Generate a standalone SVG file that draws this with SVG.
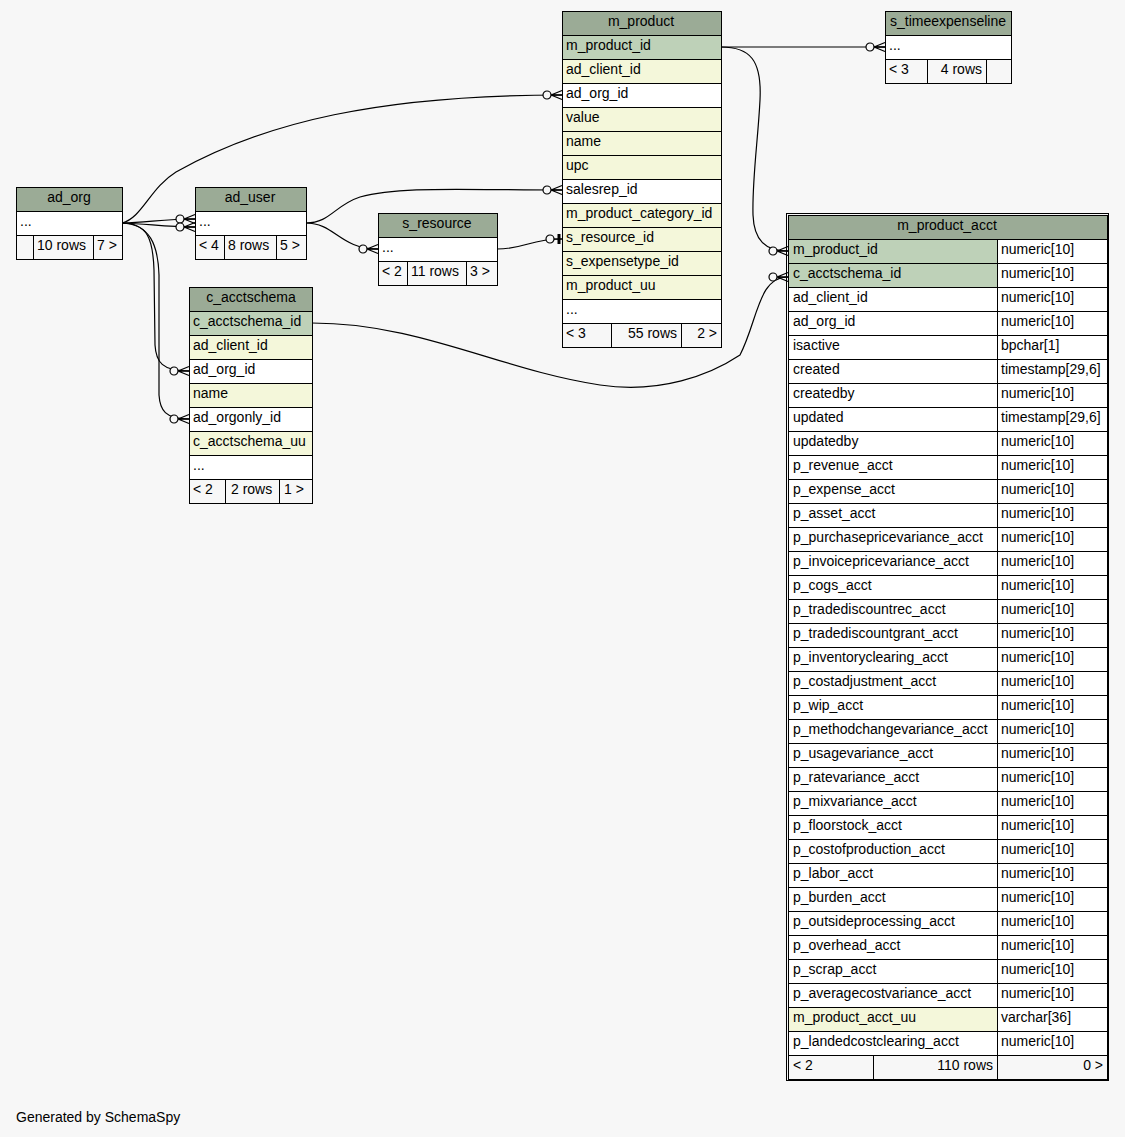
<svg xmlns="http://www.w3.org/2000/svg" width="1125" height="1137" viewBox="0 0 1125 1137">
<style>
text{font-family:"Liberation Sans",Arial,sans-serif;font-size:14px;fill:#000}
.c{text-anchor:middle}
.e{text-anchor:end}
rect{stroke:#000;stroke-width:1}
.bg{fill:#f7f7f7;stroke:none}
.hd{fill:#9bab96}
.pk{fill:#bed1b8}
.ix{fill:#f4f7da}
.pl{fill:#ffffff}
.ft{fill:#f7f7f7}
.edge path{fill:none;stroke:#000;stroke-width:1.2}
</style>
<defs>
<marker id="crow" markerUnits="userSpaceOnUse" viewBox="-22 -8 24 16" refX="0" refY="0" markerWidth="24" markerHeight="16" orient="auto" overflow="visible">
<path d="M-11,0 L0,-4.5 M-11,0 L0,0 M-11,0 L0,4.5" stroke="#000" fill="none" stroke-width="1.3"/>
<circle cx="-15" cy="0" r="4" fill="#f7f7f7" stroke="#000" stroke-width="1.2"/>
</marker>
<marker id="bar" markerUnits="userSpaceOnUse" viewBox="-22 -8 24 16" refX="0" refY="0" markerWidth="24" markerHeight="16" orient="auto" overflow="visible">
<path d="M-9,0 L0,0" stroke="#000" fill="none" stroke-width="1.2"/>
<path d="M-3,-5 L-3,5" stroke="#000" fill="none" stroke-width="3"/>
<circle cx="-12" cy="0" r="4" fill="#f7f7f7" stroke="#000" stroke-width="1.2"/>
</marker>
</defs>
<rect class="bg" x="0" y="0" width="1125" height="1137"/>

<g id="connectors" class="edge">
<path d="M122,223 C142,218 150,188 176,172 C265,122 380,95 562,95" marker-end="url(#crow)"/>
<path d="M122,223 C150,222 165,219 195,219" marker-end="url(#crow)"/>
<path d="M122,223 C150,224 165,227 195,227" marker-end="url(#crow)"/>
<path d="M122,223 C148,223 153,240 154,270 L155,345 C156,362 162,371 189,371" marker-end="url(#crow)"/>
<path d="M122,223 C150,224 158,245 159,275 L159,395 C160,410 165,419 189,419" marker-end="url(#crow)"/>
<path d="M306,223 C335,223 340,249 378,249" marker-end="url(#crow)"/>
<path d="M306,223 C330,223 335,205 360,197 C400,186 460,190 562,190" marker-end="url(#crow)"/>
<path d="M497,249 C525,249 530,239 562,239" marker-end="url(#bar)"/>
<path d="M721,47 L885,47" marker-end="url(#crow)"/>
<path d="M721,47 C750,47 762,60 760,100 C758,140 752,180 753,215 C754,240 765,251 788,251" marker-end="url(#crow)"/>
<path d="M312,323 C420,323 500,370 600,385 C660,394 710,375 740,355 C758,320 758,277 788,277" marker-end="url(#crow)"/>
</g>

<g id="ad_org">
<rect class="hd" x="16.5" y="187.5" width="106" height="24"/>
<text class="c" x="69" y="202">ad_org</text>
<rect class="pl" x="16.5" y="211.5" width="106" height="24"/>
<text x="20" y="226">...</text>
<rect class="ft" x="16.5" y="235.5" width="17" height="24"/>
<rect class="ft" x="33.5" y="235.5" width="60" height="24"/>
<rect class="ft" x="93.5" y="235.5" width="29" height="24"/>
<text x="37" y="250">10 rows</text>
<text x="97" y="250">7 &gt;</text>
</g>

<g id="ad_user">
<rect class="hd" x="195.5" y="187.5" width="111" height="24"/>
<text class="c" x="250" y="202">ad_user</text>
<rect class="pl" x="195.5" y="211.5" width="111" height="24"/>
<text x="199" y="226">...</text>
<rect class="ft" x="195.5" y="235.5" width="29" height="24"/>
<rect class="ft" x="224.5" y="235.5" width="52" height="24"/>
<rect class="ft" x="276.5" y="235.5" width="30" height="24"/>
<text x="199" y="250">&lt; 4</text>
<text x="228" y="250">8 rows</text>
<text x="280" y="250">5 &gt;</text>
</g>

<g id="s_resource">
<rect class="hd" x="378.5" y="213.5" width="119" height="24"/>
<text class="c" x="437" y="228">s_resource</text>
<rect class="pl" x="378.5" y="237.5" width="119" height="24"/>
<text x="382" y="252">...</text>
<rect class="ft" x="378.5" y="261.5" width="29" height="24"/>
<rect class="ft" x="407.5" y="261.5" width="59" height="24"/>
<rect class="ft" x="466.5" y="261.5" width="31" height="24"/>
<text x="382" y="276">&lt; 2</text>
<text x="411" y="276">11 rows</text>
<text x="470" y="276">3 &gt;</text>
</g>

<g id="c_acctschema">
<rect class="hd" x="189.5" y="287.5" width="123" height="24"/>
<text class="c" x="251" y="302">c_acctschema</text>
<rect class="pk" x="189.5" y="311.5" width="123" height="24"/>
<text x="193" y="326">c_acctschema_id</text>
<rect class="ix" x="189.5" y="335.5" width="123" height="24"/>
<text x="193" y="350">ad_client_id</text>
<rect class="pl" x="189.5" y="359.5" width="123" height="24"/>
<text x="193" y="374">ad_org_id</text>
<rect class="ix" x="189.5" y="383.5" width="123" height="24"/>
<text x="193" y="398">name</text>
<rect class="pl" x="189.5" y="407.5" width="123" height="24"/>
<text x="193" y="422">ad_orgonly_id</text>
<rect class="ix" x="189.5" y="431.5" width="123" height="24"/>
<text x="193" y="446">c_acctschema_uu</text>
<rect class="pl" x="189.5" y="455.5" width="123" height="24"/>
<text x="193" y="470">...</text>
<rect class="ft" x="189.5" y="479.5" width="36" height="24"/>
<rect class="ft" x="225.5" y="479.5" width="54" height="24"/>
<rect class="ft" x="279.5" y="479.5" width="33" height="24"/>
<text x="193" y="494">&lt; 2</text>
<text x="231" y="494">2 rows</text>
<text x="284" y="494">1 &gt;</text>
</g>

<g id="m_product">
<rect class="hd" x="562.5" y="11.5" width="159" height="24"/>
<text class="c" x="641" y="26">m_product</text>
<rect class="pk" x="562.5" y="35.5" width="159" height="24"/>
<text x="566" y="50">m_product_id</text>
<rect class="ix" x="562.5" y="59.5" width="159" height="24"/>
<text x="566" y="74">ad_client_id</text>
<rect class="pl" x="562.5" y="83.5" width="159" height="24"/>
<text x="566" y="98">ad_org_id</text>
<rect class="ix" x="562.5" y="107.5" width="159" height="24"/>
<text x="566" y="122">value</text>
<rect class="ix" x="562.5" y="131.5" width="159" height="24"/>
<text x="566" y="146">name</text>
<rect class="ix" x="562.5" y="155.5" width="159" height="24"/>
<text x="566" y="170">upc</text>
<rect class="pl" x="562.5" y="179.5" width="159" height="24"/>
<text x="566" y="194">salesrep_id</text>
<rect class="ix" x="562.5" y="203.5" width="159" height="24"/>
<text x="566" y="218">m_product_category_id</text>
<rect class="ix" x="562.5" y="227.5" width="159" height="24"/>
<text x="566" y="242">s_resource_id</text>
<rect class="ix" x="562.5" y="251.5" width="159" height="24"/>
<text x="566" y="266">s_expensetype_id</text>
<rect class="ix" x="562.5" y="275.5" width="159" height="24"/>
<text x="566" y="290">m_product_uu</text>
<rect class="pl" x="562.5" y="299.5" width="159" height="24"/>
<text x="566" y="314">...</text>
<rect class="ft" x="562.5" y="323.5" width="49" height="24"/>
<rect class="ft" x="611.5" y="323.5" width="70" height="24"/>
<rect class="ft" x="681.5" y="323.5" width="40" height="24"/>
<text x="566" y="338">&lt; 3</text>
<text class="e" x="677" y="338">55 rows</text>
<text class="e" x="717" y="338">2 &gt;</text>
</g>

<g id="s_timeexpenseline">
<rect class="hd" x="885.5" y="11.5" width="126" height="24"/>
<text class="c" x="948" y="26">s_timeexpenseline</text>
<rect class="pl" x="885.5" y="35.5" width="126" height="24"/>
<text x="889" y="50">...</text>
<rect class="ft" x="885.5" y="59.5" width="42" height="24"/>
<rect class="ft" x="927.5" y="59.5" width="59" height="24"/>
<rect class="ft" x="986.5" y="59.5" width="25" height="24"/>
<text x="889" y="74">&lt; 3</text>
<text class="e" x="982" y="74">4 rows</text>
</g>

<g id="m_product_acct">
<rect class="hd" x="788.5" y="215.5" width="319" height="24"/>
<text class="c" x="947" y="230">m_product_acct</text>
<rect class="pk" x="788.5" y="239.5" width="209" height="24"/><rect class="pl" x="997.5" y="239.5" width="110" height="24"/>
<text x="793" y="254">m_product_id</text><text x="1001" y="254">numeric[10]</text>
<rect class="pk" x="788.5" y="263.5" width="209" height="24"/><rect class="pl" x="997.5" y="263.5" width="110" height="24"/>
<text x="793" y="278">c_acctschema_id</text><text x="1001" y="278">numeric[10]</text>
<rect class="pl" x="788.5" y="287.5" width="209" height="24"/><rect class="pl" x="997.5" y="287.5" width="110" height="24"/>
<text x="793" y="302">ad_client_id</text><text x="1001" y="302">numeric[10]</text>
<rect class="pl" x="788.5" y="311.5" width="209" height="24"/><rect class="pl" x="997.5" y="311.5" width="110" height="24"/>
<text x="793" y="326">ad_org_id</text><text x="1001" y="326">numeric[10]</text>
<rect class="pl" x="788.5" y="335.5" width="209" height="24"/><rect class="pl" x="997.5" y="335.5" width="110" height="24"/>
<text x="793" y="350">isactive</text><text x="1001" y="350">bpchar[1]</text>
<rect class="pl" x="788.5" y="359.5" width="209" height="24"/><rect class="pl" x="997.5" y="359.5" width="110" height="24"/>
<text x="793" y="374">created</text><text x="1001" y="374">timestamp[29,6]</text>
<rect class="pl" x="788.5" y="383.5" width="209" height="24"/><rect class="pl" x="997.5" y="383.5" width="110" height="24"/>
<text x="793" y="398">createdby</text><text x="1001" y="398">numeric[10]</text>
<rect class="pl" x="788.5" y="407.5" width="209" height="24"/><rect class="pl" x="997.5" y="407.5" width="110" height="24"/>
<text x="793" y="422">updated</text><text x="1001" y="422">timestamp[29,6]</text>
<rect class="pl" x="788.5" y="431.5" width="209" height="24"/><rect class="pl" x="997.5" y="431.5" width="110" height="24"/>
<text x="793" y="446">updatedby</text><text x="1001" y="446">numeric[10]</text>
<rect class="pl" x="788.5" y="455.5" width="209" height="24"/><rect class="pl" x="997.5" y="455.5" width="110" height="24"/>
<text x="793" y="470">p_revenue_acct</text><text x="1001" y="470">numeric[10]</text>
<rect class="pl" x="788.5" y="479.5" width="209" height="24"/><rect class="pl" x="997.5" y="479.5" width="110" height="24"/>
<text x="793" y="494">p_expense_acct</text><text x="1001" y="494">numeric[10]</text>
<rect class="pl" x="788.5" y="503.5" width="209" height="24"/><rect class="pl" x="997.5" y="503.5" width="110" height="24"/>
<text x="793" y="518">p_asset_acct</text><text x="1001" y="518">numeric[10]</text>
<rect class="pl" x="788.5" y="527.5" width="209" height="24"/><rect class="pl" x="997.5" y="527.5" width="110" height="24"/>
<text x="793" y="542">p_purchasepricevariance_acct</text><text x="1001" y="542">numeric[10]</text>
<rect class="pl" x="788.5" y="551.5" width="209" height="24"/><rect class="pl" x="997.5" y="551.5" width="110" height="24"/>
<text x="793" y="566">p_invoicepricevariance_acct</text><text x="1001" y="566">numeric[10]</text>
<rect class="pl" x="788.5" y="575.5" width="209" height="24"/><rect class="pl" x="997.5" y="575.5" width="110" height="24"/>
<text x="793" y="590">p_cogs_acct</text><text x="1001" y="590">numeric[10]</text>
<rect class="pl" x="788.5" y="599.5" width="209" height="24"/><rect class="pl" x="997.5" y="599.5" width="110" height="24"/>
<text x="793" y="614">p_tradediscountrec_acct</text><text x="1001" y="614">numeric[10]</text>
<rect class="pl" x="788.5" y="623.5" width="209" height="24"/><rect class="pl" x="997.5" y="623.5" width="110" height="24"/>
<text x="793" y="638">p_tradediscountgrant_acct</text><text x="1001" y="638">numeric[10]</text>
<rect class="pl" x="788.5" y="647.5" width="209" height="24"/><rect class="pl" x="997.5" y="647.5" width="110" height="24"/>
<text x="793" y="662">p_inventoryclearing_acct</text><text x="1001" y="662">numeric[10]</text>
<rect class="pl" x="788.5" y="671.5" width="209" height="24"/><rect class="pl" x="997.5" y="671.5" width="110" height="24"/>
<text x="793" y="686">p_costadjustment_acct</text><text x="1001" y="686">numeric[10]</text>
<rect class="pl" x="788.5" y="695.5" width="209" height="24"/><rect class="pl" x="997.5" y="695.5" width="110" height="24"/>
<text x="793" y="710">p_wip_acct</text><text x="1001" y="710">numeric[10]</text>
<rect class="pl" x="788.5" y="719.5" width="209" height="24"/><rect class="pl" x="997.5" y="719.5" width="110" height="24"/>
<text x="793" y="734">p_methodchangevariance_acct</text><text x="1001" y="734">numeric[10]</text>
<rect class="pl" x="788.5" y="743.5" width="209" height="24"/><rect class="pl" x="997.5" y="743.5" width="110" height="24"/>
<text x="793" y="758">p_usagevariance_acct</text><text x="1001" y="758">numeric[10]</text>
<rect class="pl" x="788.5" y="767.5" width="209" height="24"/><rect class="pl" x="997.5" y="767.5" width="110" height="24"/>
<text x="793" y="782">p_ratevariance_acct</text><text x="1001" y="782">numeric[10]</text>
<rect class="pl" x="788.5" y="791.5" width="209" height="24"/><rect class="pl" x="997.5" y="791.5" width="110" height="24"/>
<text x="793" y="806">p_mixvariance_acct</text><text x="1001" y="806">numeric[10]</text>
<rect class="pl" x="788.5" y="815.5" width="209" height="24"/><rect class="pl" x="997.5" y="815.5" width="110" height="24"/>
<text x="793" y="830">p_floorstock_acct</text><text x="1001" y="830">numeric[10]</text>
<rect class="pl" x="788.5" y="839.5" width="209" height="24"/><rect class="pl" x="997.5" y="839.5" width="110" height="24"/>
<text x="793" y="854">p_costofproduction_acct</text><text x="1001" y="854">numeric[10]</text>
<rect class="pl" x="788.5" y="863.5" width="209" height="24"/><rect class="pl" x="997.5" y="863.5" width="110" height="24"/>
<text x="793" y="878">p_labor_acct</text><text x="1001" y="878">numeric[10]</text>
<rect class="pl" x="788.5" y="887.5" width="209" height="24"/><rect class="pl" x="997.5" y="887.5" width="110" height="24"/>
<text x="793" y="902">p_burden_acct</text><text x="1001" y="902">numeric[10]</text>
<rect class="pl" x="788.5" y="911.5" width="209" height="24"/><rect class="pl" x="997.5" y="911.5" width="110" height="24"/>
<text x="793" y="926">p_outsideprocessing_acct</text><text x="1001" y="926">numeric[10]</text>
<rect class="pl" x="788.5" y="935.5" width="209" height="24"/><rect class="pl" x="997.5" y="935.5" width="110" height="24"/>
<text x="793" y="950">p_overhead_acct</text><text x="1001" y="950">numeric[10]</text>
<rect class="pl" x="788.5" y="959.5" width="209" height="24"/><rect class="pl" x="997.5" y="959.5" width="110" height="24"/>
<text x="793" y="974">p_scrap_acct</text><text x="1001" y="974">numeric[10]</text>
<rect class="pl" x="788.5" y="983.5" width="209" height="24"/><rect class="pl" x="997.5" y="983.5" width="110" height="24"/>
<text x="793" y="998">p_averagecostvariance_acct</text><text x="1001" y="998">numeric[10]</text>
<rect class="ix" x="788.5" y="1007.5" width="209" height="24"/><rect class="pl" x="997.5" y="1007.5" width="110" height="24"/>
<text x="793" y="1022">m_product_acct_uu</text><text x="1001" y="1022">varchar[36]</text>
<rect class="pl" x="788.5" y="1031.5" width="209" height="24"/><rect class="pl" x="997.5" y="1031.5" width="110" height="24"/>
<text x="793" y="1046">p_landedcostclearing_acct</text><text x="1001" y="1046">numeric[10]</text>
<rect class="ft" x="788.5" y="1055.5" width="85" height="24"/>
<rect class="ft" x="873.5" y="1055.5" width="124" height="24"/>
<rect class="ft" x="997.5" y="1055.5" width="110" height="24"/>
<text x="793" y="1070">&lt; 2</text>
<text class="e" x="993" y="1070">110 rows</text>
<text class="e" x="1103" y="1070">0 &gt;</text>
<rect x="786.5" y="213.5" width="322" height="867" fill="none" stroke="#000" stroke-width="3"/>
</g>

<text x="16" y="1122">Generated by SchemaSpy</text>
</svg>
